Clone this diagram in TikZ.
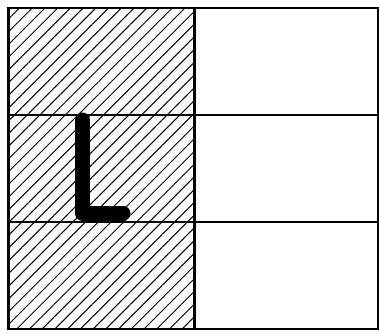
\documentclass[tikz,border=0pt]{standalone}
\usetikzlibrary{positioning,patterns.meta}

\begin{document}
\begin{tikzpicture}[x=0.5pt,y=-0.5pt,
  cell/.style={draw,line width=1pt,minimum width=93pt,minimum height=53.5pt,
               inner sep=0pt,outer sep=0pt},
  hatched/.style={cell,pattern={Lines[angle=45,distance=4.5pt,line width=0.5pt]}},
  plain/.style={cell,minimum width=92pt},
  letter/.style={line width=7.5pt,line cap=round,line join=round}
]
  \useasboundingbox (0,0) rectangle (379,333);
  \node[hatched,anchor=north west] (l1) at (8,8) {};
  \node[hatched,below=0pt of l1] (l2) {};
  \node[hatched,below=0pt of l2] (l3) {};
  \node[plain,right=0pt of l1] (r1) {};
  \node[plain,right=0pt of l2] (r2) {};
  \node[plain,right=0pt of l3] (r3) {};
  \draw[line width=1.5pt] (l1.north west) -- (l3.south west);
  \draw[line width=1.5pt] (l1.north east) -- (l3.south east);
  \draw[line width=1.3pt] (l3.south west) -- (r3.south east);
  % the letter
  \draw[letter] (82.5,120) -- (82.5,213) -- (123,213);
\end{tikzpicture}
\end{document}
